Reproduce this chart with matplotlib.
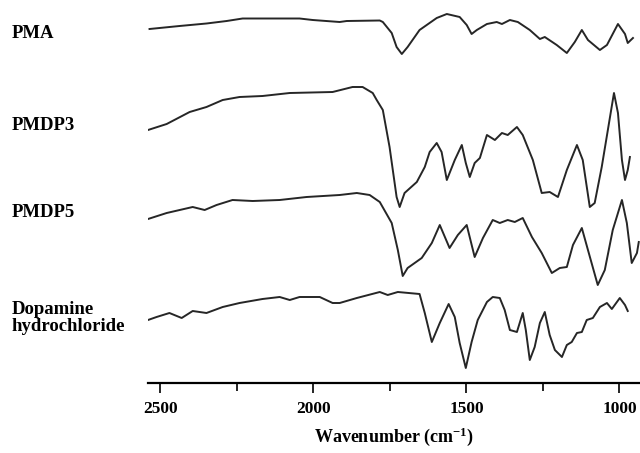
import numpy as np
import matplotlib.pyplot as plt

# FTIR spectra, stacked (relative transmittance, a.u.)
pma_wn = [2535, 2437, 2349, 2283, 2231, 2045, 2002, 1914, 1891, 1783, 1773, 1744, 1728, 1711,
          1692, 1653, 1597, 1564, 1522, 1499, 1483, 1466, 1433, 1401, 1384, 1358, 1332, 1293,
          1260, 1244, 1205, 1172, 1146, 1123, 1103, 1064, 1041, 1005, 982, 973, 956]
pma_t = [354, 357, 359.5, 362, 364.5, 364.5, 363, 361, 362, 362.5, 361, 350, 336, 329,
         336, 353, 365, 369, 366, 358, 349, 353, 359, 361, 359, 363, 361, 353,
         344, 346, 338, 330, 341, 353, 343, 333, 338, 359, 349, 340, 345]

pmdp3_wn = [2540, 2479, 2404, 2349, 2296, 2241, 2166, 2077, 1937, 1872, 1839, 1806, 1793, 1773,
            1751, 1728, 1718, 1702, 1662, 1636, 1620, 1597, 1581, 1564, 1538, 1515, 1502, 1489,
            1473, 1456, 1433, 1407, 1384, 1365, 1335, 1316, 1283, 1254, 1228, 1201, 1172, 1139,
            1120, 1097, 1081, 1058, 1038, 1018, 1005, 992, 982, 973, 966]
pmdp3_t = [253, 259, 271, 276, 283, 286, 287, 290, 291, 296, 296, 290, 283, 273,
           236, 186, 176, 190, 201, 216, 231, 240, 231, 203, 223, 238, 220, 206,
           220, 225, 248, 243, 250, 248, 256, 248, 223, 190, 191, 186, 213, 238,
           223, 176, 180, 216, 253, 290, 270, 223, 203, 213, 226]

pmdp5_wn = [2540, 2479, 2394, 2355, 2316, 2264, 2198, 2110, 2022, 1914, 1858, 1816, 1783, 1744,
            1724, 1708, 1692, 1646, 1613, 1587, 1555, 1528, 1499, 1473, 1446, 1414, 1391, 1365,
            1342, 1316, 1286, 1254, 1221, 1195, 1172, 1152, 1123, 1103, 1071, 1048, 1022, 992,
            976, 960, 943, 937]
pmdp5_t = [164, 170, 176, 173, 178, 183, 182, 183, 186, 188, 190, 188, 181, 160,
           133, 107, 115, 125, 140, 158, 135, 148, 158, 126, 145, 163, 160, 163,
           161, 165, 146, 130, 110, 115, 116, 138, 155, 133, 98, 113, 153, 183,
           160, 120, 130, 141]

dopa_wn = [2540, 2512, 2470, 2430, 2394, 2349, 2296, 2241, 2166, 2110, 2077, 2045, 1979, 1937,
           1914, 1858, 1783, 1757, 1724, 1653, 1636, 1613, 1587, 1558, 1538, 1522, 1502, 1483,
           1463, 1433, 1414, 1391, 1375, 1358, 1335, 1316, 1306, 1293, 1277, 1260, 1244, 1228,
           1211, 1188, 1172, 1156, 1139, 1123, 1107, 1087, 1064, 1041, 1025, 999, 982, 973]
dopa_t = [63, 66, 70, 65, 72, 70, 76, 80, 84, 86, 83, 86, 86, 80,
          80, 85, 91, 88, 91, 89, 70, 41, 60, 79, 66, 40, 15, 41,
          63, 81, 86, 85, 73, 53, 51, 70, 53, 23, 36, 60, 71, 48,
          33, 26, 38, 41, 50, 51, 63, 65, 76, 80, 74, 85, 78, 72]

names = ["PMA", "PMDP3", "PMDP5", "Dopamine\nhydrochloride"]
ticks = [2500, 2000, 1500, 1000]

plt.rcParams['font.family'] = ['Liberation Serif', 'DejaVu Serif']
plt.rcParams['font.weight'] = 'bold'
plt.rcParams['mathtext.fontset'] = 'custom'
plt.rcParams['mathtext.rm'] = 'Liberation Serif:bold'
plt.rcParams['mathtext.default'] = 'rm'

fig = plt.figure(figsize=(6.4, 4.53), dpi=100)
ax = fig.add_axes([148 / 640, 70 / 453, 492 / 640, 383 / 453])

for wn, t in [(pma_wn, pma_t), (pmdp3_wn, pmdp3_t), (pmdp5_wn, pmdp5_t), (dopa_wn, dopa_t)]:
    ax.plot(wn, t, color="#262626", lw=1.4, solid_joinstyle="round")

ax.set_xlim(2540, 933)
ax.set_ylim(0, 383)

for s in ["top", "right", "left"]:
    ax.spines[s].set_visible(False)
ax.spines["bottom"].set_linewidth(1.6)
ax.set_yticks([])
ax.set_xticks(ticks)
ax.set_xticks([2250, 1750, 1250], minor=True)
ax.tick_params(axis="x", which="major", direction="out", length=7, width=1.2, labelsize=12.5, pad=6)
ax.tick_params(axis="x", which="minor", direction="out", length=6, width=1.2)
ax.set_xlabel("Wavenumber (cm$^{-1}$)", fontsize=13, fontweight="bold", labelpad=6)

label_y = [34, 125, 213, 318]
for name, y in zip(names, label_y):
    fig.text(12 / 640, 1 - y / 453, name, fontsize=13.5, fontweight="bold",
             va="center", ha="left", linespacing=1.0)

fig.savefig("out.png", dpi=100)
